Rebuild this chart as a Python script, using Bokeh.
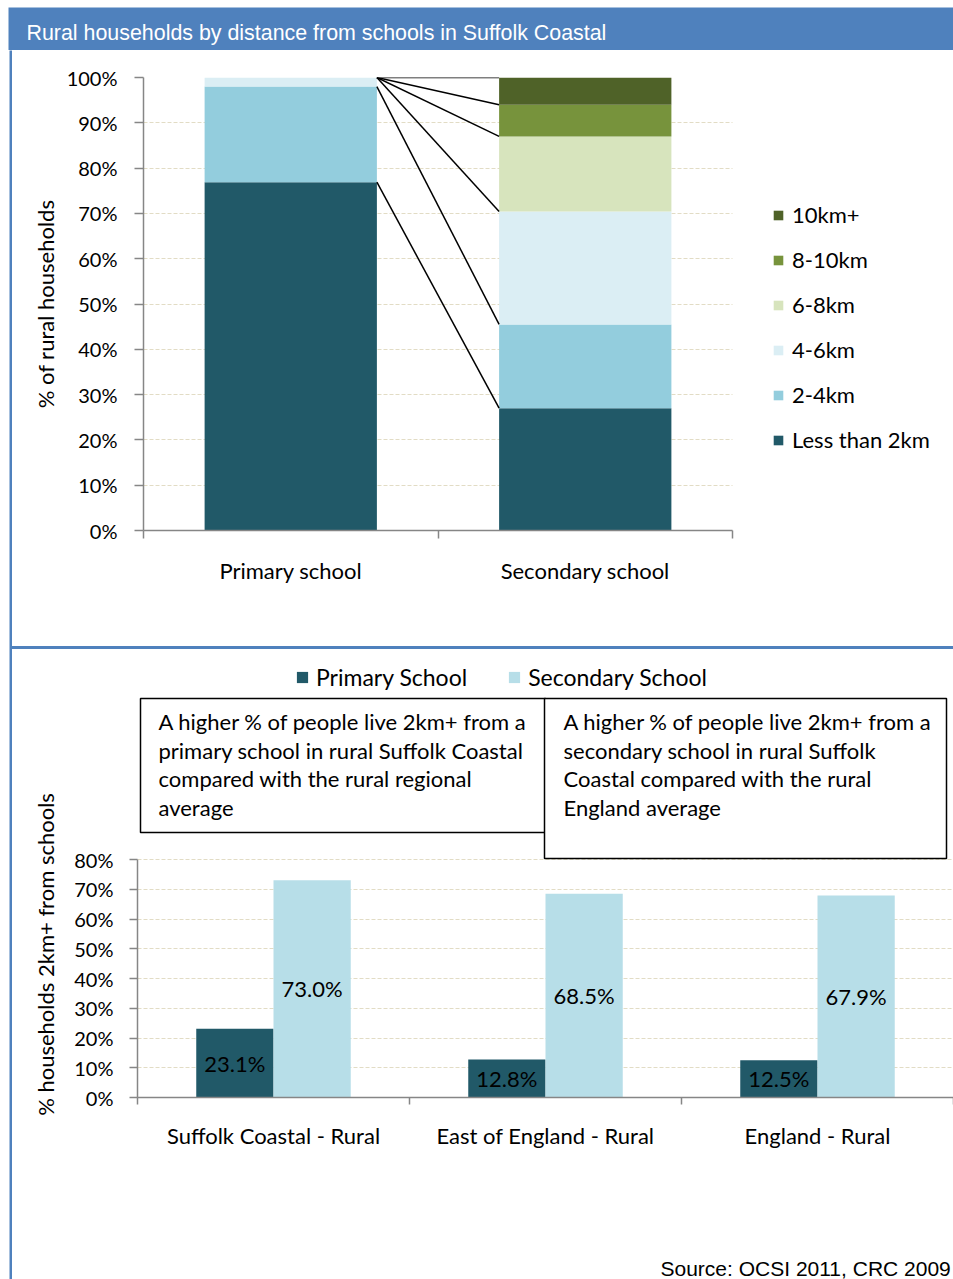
from bokeh.plotting import figure
from bokeh.layouts import column, row
from bokeh.models import (Range1d, FixedTicker, Legend, LegendItem, Label,
                          BoxAnnotation, ColumnDataSource, Div)
from bokeh.core.properties import value
from bokeh.embed import file_html
from bokeh.resources import INLINE

# ---------------- data ----------------
# Top chart: share of rural households by distance band
bands = ["Less than 2km", "2-4km", "4-6km", "6-8km", "8-10km", "10km+"]
band_colors = ["#215968", "#93CDDD", "#DBEEF4", "#D7E4BD", "#77933C", "#4F6228"]
schools = ["Primary school", "Secondary school"]
primary_pct = [76.9, 21.1, 2.0, 0.0, 0.0, 0.0]
secondary_pct = [27.0, 18.5, 24.9, 16.6, 7.0, 6.0]
top_ticks = [0, 10, 20, 30, 40, 50, 60, 70, 80, 90, 100]

# Bottom chart: households 2km+ from a school
areas = ["Suffolk Coastal - Rural", "East of England - Rural", "England - Rural"]
primary_2km_plus = [23.1, 12.8, 12.5]
secondary_2km_plus = [73.0, 68.5, 67.9]
bottom_ticks = [0, 10, 20, 30, 40, 50, 60, 70, 80]
series_names = ["Primary School", "Secondary School"]
series_colors = ["#215968", "#B7DEE8"]

title_text = "Rural households by distance from schools in Suffolk Coastal"
source_text = "Source: OCSI 2011, CRC 2009"
bottom_ylabel = "% households 2km+ from schools"
note_left = ["A higher % of people live 2km+ from a",
             "primary school in rural Suffolk Coastal",
             "compared with the rural regional",
             "average"]
note_right = ["A higher % of people live 2km+ from a",
              "secondary school in rural Suffolk",
              "Coastal compared with the rural",
              "England average"]

# ---------------- styling ----------------
FONT = "Lato"
BLUE = "#4F81BD"
AXIS = "#868686"
GRID = "#E2DCC5"


def bare(width, height, xr, yr, **kw):
    f = figure(width=width, height=height, toolbar_location=None,
               output_backend="svg", x_axis_location=None, y_axis_location=None,
               x_range=Range1d(0, xr), y_range=Range1d(0, yr), frame_align=False,
               **kw)
    f.grid.visible = False
    f.outline_line_color = None
    f.border_fill_color = "white"
    return f


# ---------------- header band ----------------
header = bare(953, 50, 945, 43, min_border_left=8, min_border_top=7,
              min_border_right=0, min_border_bottom=0)
header.background_fill_color = BLUE
header.add_layout(Label(x=18, y=18, text=title_text, text_color="white",
                        text_font="Liberation Sans", text_font_size="21.4px",
                        text_baseline="middle"))

# left rule and separator rule
strip = bare(12, 1229, 1, 1, min_border_left=9, min_border_right=0,
             min_border_top=0, min_border_bottom=0)
strip.background_fill_color = BLUE
sep = Div(text="", width=941, height=3, margin=0,
          styles={"background-color": BLUE})


def style_axes(p, xsize, ysize):
    for ax in (p.xaxis[0], p.yaxis[0]):
        ax.axis_line_color = AXIS
        ax.axis_line_width = 1.5
        ax.major_label_text_font = FONT
        ax.major_label_text_color = "black"
        ax.axis_label_text_font = FONT
        ax.axis_label_text_font_style = "normal"
        ax.axis_label_text_color = "black"
    p.xaxis.major_label_text_font_size = xsize
    p.yaxis.major_label_text_font_size = ysize
    p.xaxis.major_tick_line_color = None
    p.xaxis.major_tick_out = 0
    p.xaxis.major_tick_in = 0
    p.xaxis.minor_tick_line_color = AXIS
    p.xaxis.minor_tick_line_width = 1.5
    p.xaxis.minor_tick_in = 0
    p.yaxis.major_tick_line_color = AXIS
    p.yaxis.major_tick_line_width = 1.5
    p.yaxis.major_tick_in = 0
    p.yaxis.minor_tick_line_color = None
    p.xgrid.visible = False
    p.ygrid.grid_line_color = GRID
    p.ygrid.grid_line_dash = "4 2"
    p.outline_line_color = None
    p.border_fill_color = "white"


# ---------------- top chart: stacked distance bands ----------------
# plotting frame runs to the right edge so the legend sits inside it;
# the axis and grid are bounded to the two categories
BAR_W = 0.585
TOP_CAT_PX = 294.5
top = figure(width=941, height=596, toolbar_location=None, output_backend="svg",
             x_range=Range1d(0, 810 / TOP_CAT_PX), y_range=Range1d(0, 100),
             min_border_left=131, min_border_right=0,
             min_border_top=27, min_border_bottom=116, frame_align=False)

x_top = [i + 0.5 for i in range(len(schools))]
src = {"x": x_top}
for k, b in enumerate(bands):
    src[b] = [primary_pct[k], secondary_pct[k]]
stack = top.vbar_stack(bands, x="x", width=BAR_W, color=band_colors,
                       line_color=None, source=ColumnDataSource(src))

# series lines joining the band boundaries of the two bars
cum_p, cum_s = [], []
run_p = run_s = 0.0
for a, b in zip(primary_pct, secondary_pct):
    run_p += a
    run_s += b
    cum_p.append(min(run_p, 100.0))
    cum_s.append(min(run_s, 100.0))
n = len(bands)
top.segment(x0=[x_top[0] + BAR_W / 2] * n, y0=cum_p,
            x1=[x_top[1] - BAR_W / 2] * n, y1=cum_s,
            line_color="black", line_width=1.5)

top.xaxis.ticker = FixedTicker(ticks=x_top, minor_ticks=list(range(len(schools) + 1)))
top.xaxis.major_label_overrides = {x: s for x, s in zip(x_top, schools)}
top.xaxis.bounds = (0, len(schools))
top.xaxis.minor_tick_out = 8
top.xaxis.major_label_standoff = 18
top.yaxis.ticker = FixedTicker(ticks=top_ticks)
top.yaxis.major_label_overrides = {t: f"{t}%" for t in top_ticks}
top.yaxis.major_tick_out = 9
top.yaxis.major_label_standoff = 17
top.yaxis.axis_label = "% of rural households"
top.yaxis.axis_label_text_font_size = "22px"
top.yaxis.axis_label_standoff = 5
style_axes(top, "22px", "20px")
top.ygrid.cross_bounds = (0, len(schools))

top_legend = Legend(
    items=[LegendItem(label=bands[k], renderers=[stack[k]]) for k in reversed(range(n))],
    location=(629, 77), orientation="vertical",
    glyph_width=12, glyph_height=12, label_standoff=8, spacing=18,
    label_height=20, padding=0, margin=0, border_line_color=None,
    background_fill_alpha=0, label_text_font=FONT, label_text_font_size="22px",
    label_text_color="black")
top.add_layout(top_legend)

# ---------------- bottom chart: 2km+ comparison ----------------
# frame reaches up above 80% so the legend and notes sit inside it
PX_PER_PCT = 238 / 80
bot = figure(width=886, height=590, toolbar_location=None, output_backend="svg",
             x_range=Range1d(0, len(areas)), y_range=Range1d(0, 437 / PX_PER_PCT),
             min_border_left=70, min_border_right=0,
             min_border_top=11, min_border_bottom=142, frame_align=False)

OFF = 0.142
GW = 0.284
x_mid = [i + 0.5 for i in range(len(areas))]
x_pri = [x - OFF for x in x_mid]
x_sec = [x + OFF for x in x_mid]
r_pri = bot.vbar(x=x_pri, top=primary_2km_plus, width=GW, color=series_colors[0], line_color=None)
r_sec = bot.vbar(x=x_sec, top=secondary_2km_plus, width=GW, color=series_colors[1], line_color=None)

bot.text(x=x_pri, y=[v / 2 for v in primary_2km_plus],
         text=[f"{v:.1f}%" for v in primary_2km_plus],
         text_align="center", text_baseline="middle",
         text_font=value(FONT), text_font_size="22px", text_color="black")
bot.text(x=x_sec, y=[v / 2 for v in secondary_2km_plus],
         text=[f"{v:.1f}%" for v in secondary_2km_plus],
         text_align="center", text_baseline="middle",
         text_font=value(FONT), text_font_size="22px", text_color="black")

bot.xaxis.ticker = FixedTicker(ticks=x_mid, minor_ticks=list(range(len(areas) + 1)))
bot.xaxis.major_label_overrides = {x: s for x, s in zip(x_mid, areas)}
bot.xaxis.minor_tick_out = 7
bot.xaxis.major_label_standoff = 17
bot.yaxis.ticker = FixedTicker(ticks=bottom_ticks)
bot.yaxis.major_label_overrides = {t: f"{t}%" for t in bottom_ticks}
bot.yaxis.bounds = (0, 80)
bot.yaxis.major_tick_out = 8
bot.yaxis.major_label_standoff = 16
style_axes(bot, "22px", "20px")

# pixel helpers for annotation placement inside the bottom frame
FX0, FW, FY0 = 137.0, 816.0, 1097.0


def dx(px):
    return (px - FX0) / FW * len(areas)


def dy(py):
    return (FY0 - py) / PX_PER_PCT


bot_legend = Legend(
    items=[LegendItem(label=series_names[0], renderers=[r_pri]),
           LegendItem(label=series_names[1], renderers=[r_sec])],
    location=(158, 406), orientation="horizontal",
    glyph_width=14, glyph_height=14, label_standoff=7, spacing=40,
    label_height=20, padding=0, margin=0, border_line_color=None,
    background_fill_alpha=0, label_text_font=FONT, label_text_font_size="23px",
    label_text_color="black")
bot.add_layout(bot_legend)

# note boxes
for (l, r, t, b), lines, tx in (((140, 545, 698, 832), note_left, 158),
                                ((544, 946, 698, 858), note_right, 563)):
    bot.add_layout(BoxAnnotation(left=dx(l), right=dx(r), top=dy(t), bottom=dy(b),
                                 fill_color="white", fill_alpha=1.0,
                                 line_color="black", line_width=1.5, line_alpha=1.0))
    for j, line in enumerate(lines):
        bot.add_layout(Label(x=dx(tx), y=dy(721 + 28.5 * j), text=line,
                             text_baseline="middle", text_font=FONT,
                             text_font_size="22px", text_color="black"))

# rotated title of the bottom chart's value axis
ylab = bare(55, 590, 55, 590, min_border_left=0, min_border_right=0,
            min_border_top=0, min_border_bottom=0)
ylab.add_layout(Label(x=33, y=285, text=bottom_ylabel, angle=90, angle_units="deg",
                      text_align="center", text_baseline="middle", text_font=FONT,
                      text_font_size="22px", text_color="black"))

footer = bare(941, 40, 941, 40, min_border_left=0, min_border_right=0,
              min_border_top=0, min_border_bottom=0)
footer.add_layout(Label(x=648, y=11, text=source_text, text_baseline="middle",
                        text_font="Liberation Sans", text_font_size="21px",
                        text_color="black"))

body = column(top, sep, row(ylab, bot, spacing=0), footer, spacing=0)
layout = column(header, row(strip, body, spacing=0), spacing=0)

open("out.html", "w").write(file_html(layout, INLINE))
